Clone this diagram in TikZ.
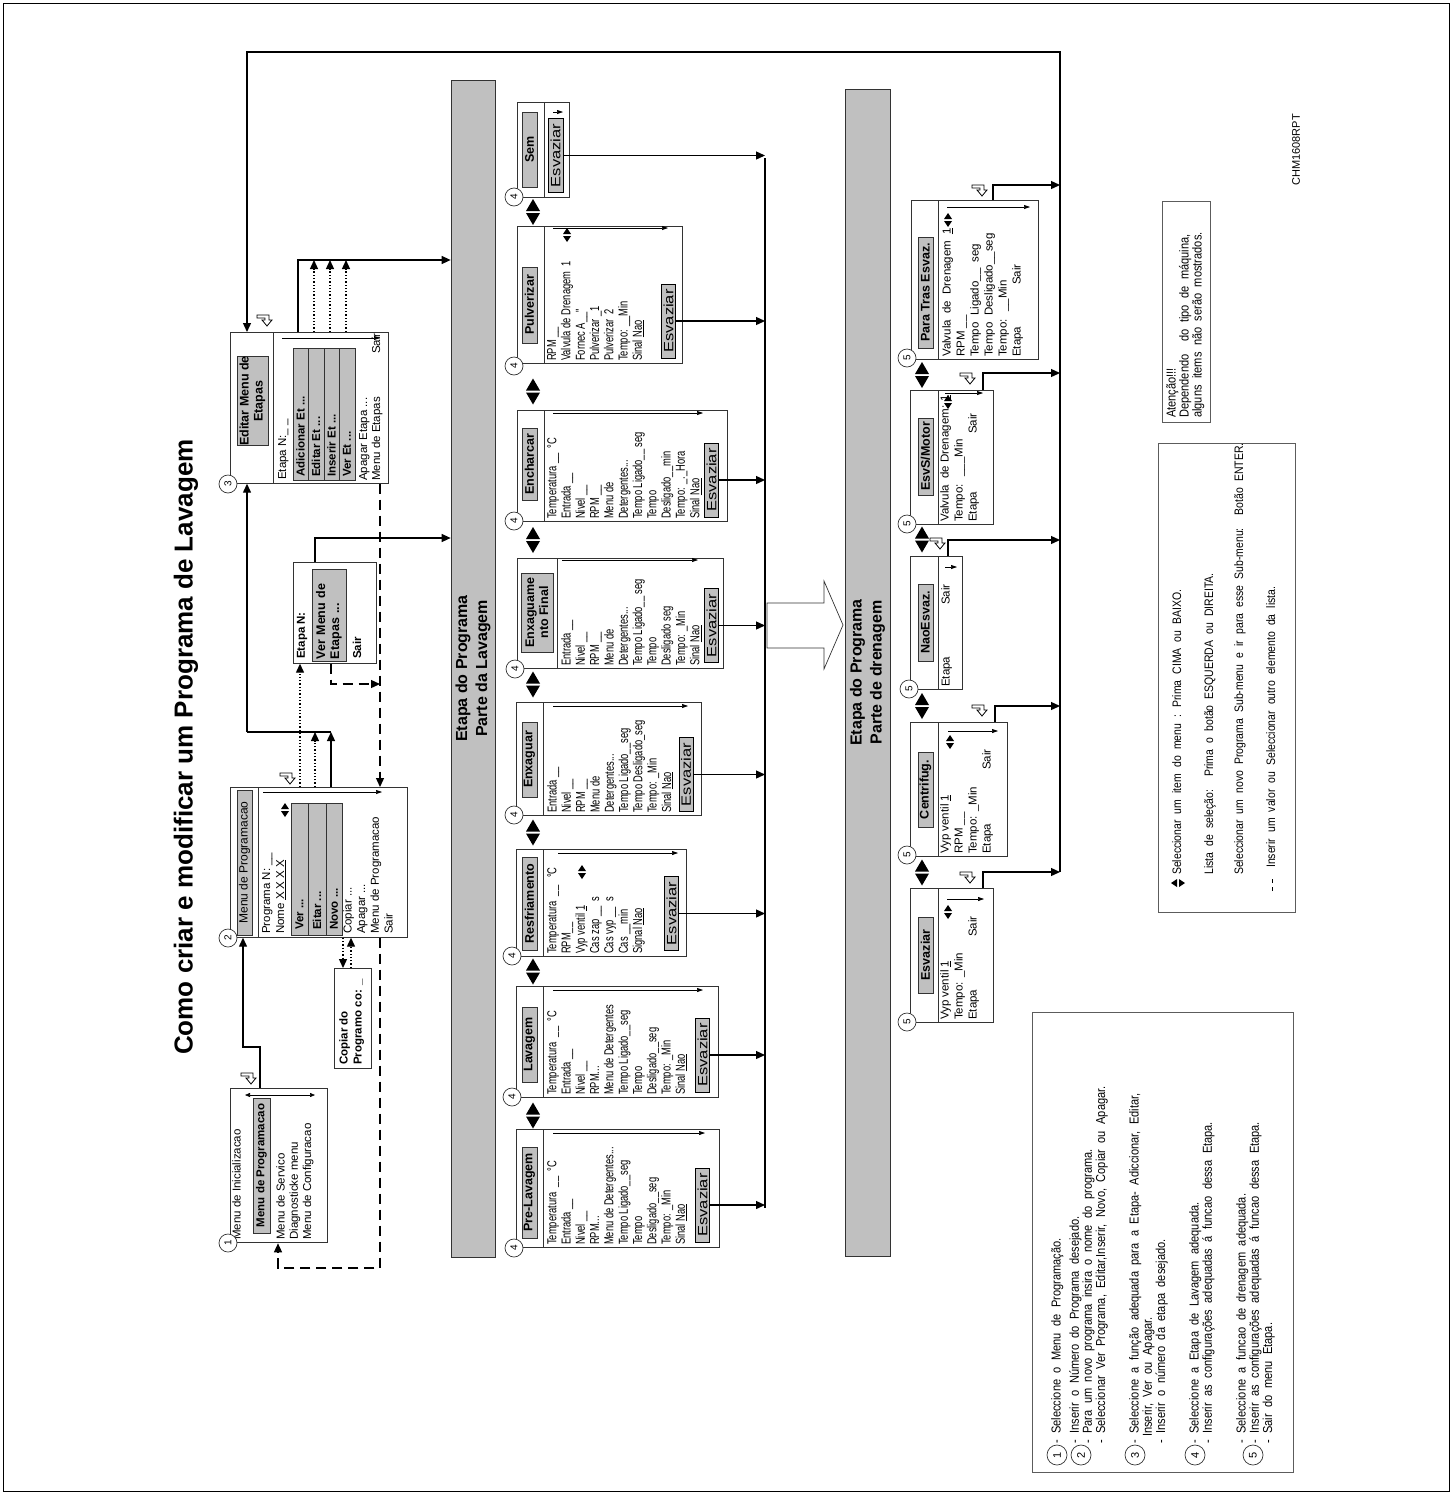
\documentclass[tikz,border=0pt]{standalone}
\usepackage{fontspec}
\setmainfont{Liberation Sans}
\newfontfamily\narrowfont[FakeStretch=0.72]{Liberation Sans}
\newfontfamily\widefont[FakeStretch=1.22]{Liberation Sans}
\newfontfamily\notefont[FakeStretch=0.85,WordSpace=2.1]{Liberation Sans}
\usetikzlibrary{arrows.meta}
\definecolor{lavGray}{HTML}{C0C0C0}
\definecolor{lavLine}{HTML}{333333}
\tikzset{
  screen/.style={rectangle,draw=lavLine,fill=white,line width=0.7pt,inner sep=0pt,anchor=north west},
  greybar/.style={rectangle,draw=lavLine,fill=lavGray,line width=0.7pt,inner sep=0pt},
  tabbox/.style={rectangle,draw=lavLine,fill=lavGray,line width=0.7pt,inner sep=0pt,rotate=90,
    minimum height=15pt,font=\bfseries\fontsize{12.5}{14}\selectfont},
  drainbtn/.style={rectangle,draw=black,fill=lavGray,line width=0.9pt,inner sep=0pt,rotate=90,
    minimum width=74pt,minimum height=14pt,font=\widefont\fontsize{13.5}{14}\selectfont},
  listtxt/.style={rotate=90,anchor=north west,inner sep=0pt,align=left,font=\fontsize{11.5}{14}\selectfont},
  washtxt/.style={rotate=90,anchor=north west,inner sep=0pt,align=left,font=\narrowfont\fontsize{13}{14.3}\selectfont},
  rowtxt/.style={rotate=90,anchor=west,inner sep=0pt,font=\bfseries\fontsize{11.5}{13}\selectfont},
  notetxt/.style={rotate=90,anchor=north west,inner sep=0pt,align=left,font=\notefont\fontsize{13}{12}\selectfont},
  stepnum/.style={circle,draw=lavLine,fill=white,line width=0.7pt,minimum size=18pt,inner sep=0pt,rotate=90,
    font=\fontsize{10}{10}\selectfont},
  flowarrow/.style={-{Triangle[length=9pt,width=8pt]},line width=1.3pt},
  dotarrow/.style={-{Triangle[length=9pt,width=8pt]},line width=1.3pt,dotted},
  dasharrow/.style={-{Triangle[length=9pt,width=8pt]},line width=1.3pt,dash pattern=on 10pt off 6pt},
  scrollarrow/.style={-{Triangle[length=6pt,width=4pt]},line width=0.6pt},
  entericon/.style={draw=black,fill=white,line width=0.8pt,line join=miter}
}

\begin{document}
\begin{tikzpicture}[x=1pt,y=-1pt]
  \useasboundingbox (0,0) rectangle (1452,1494);
  \draw[line width=0.8pt] (3,3) rectangle (1449,1491);

  % title
  \node[rotate=90,font=\bfseries\fontsize{26}{30}\selectfont] (title) at (186,747)
    {Como criar e modificar um Programa de Lavagem};

  % the two step bars
  \node[greybar,minimum width=44pt,minimum height=1177pt] (wbar) at (473,668.5) {};
  \node[rotate=90,align=center,font=\bfseries\fontsize{16}{20}\selectfont] (wbartxt) at (wbar.center)
    {Etapa do Programa\\Parte da Lavagem};
  \node[greybar,minimum width=45pt,minimum height=1167pt] (dbar) at (867.5,672.5) {};
  \node[rotate=90,align=center,font=\bfseries\fontsize{16}{20}\selectfont] (dbartxt) at (dbar.center)
    {Etapa do Programa\\Parte de drenagem};

  % menu screens
  \node[screen,line width=1.3pt,minimum width=97pt,minimum height=154pt] (m1) at (230,1088) {};
  \node[screen,minimum width=177pt,minimum height=150pt] (m2) at (230,787) {};
  \node[screen,minimum width=37pt,minimum height=100pt] (cp) at (334,968) {};
  \node[screen,minimum width=83pt,minimum height=101pt] (vm) at (293,562) {};
  \node[screen,minimum width=158pt,minimum height=151pt] (m3) at (230,332) {};
  \draw[lavLine,line width=0.7pt] ([xshift=28pt]m2.north west) -- ([xshift=28pt]m2.south west);
  \draw[lavLine,line width=0.7pt] ([xshift=43pt]m3.north west) -- ([xshift=43pt]m3.south west);

  % washing steps
  \node[screen,minimum width=203pt,minimum height=118pt] (pre) at (516,1129) {};
  \node[screen,minimum width=202pt,minimum height=111pt] (lav) at (516,986) {};
  \node[screen,minimum width=170pt,minimum height=107pt] (res) at (516,849) {};
  \node[screen,minimum width=185pt,minimum height=113pt] (enx) at (516,702) {};
  \node[screen,minimum width=206pt,minimum height=110pt] (fin) at (517,558) {};
  \node[screen,minimum width=210pt,minimum height=111pt] (enc) at (517,410) {};
  \node[screen,minimum width=165pt,minimum height=137pt] (pul) at (517,226) {};
  \node[screen,minimum width=52pt,minimum height=95pt] (sem) at (517,102) {};
  \foreach \b in {pre,lav,res,enx,enc,pul,sem}
    \draw[lavLine,line width=0.7pt] ([xshift=27pt]\b.north west) -- ([xshift=27pt]\b.south west);
  \draw[lavLine,line width=0.7pt] ([xshift=40pt]fin.north west) -- ([xshift=40pt]fin.south west);

  % draining steps
  \node[screen,minimum width=83pt,minimum height=134pt] (desv) at (910,888) {};
  \node[screen,minimum width=97pt,minimum height=134pt] (cen) at (910,722) {};
  \node[screen,minimum width=52pt,minimum height=133pt] (nao) at (910,556) {};
  \node[screen,minimum width=83pt,minimum height=134pt] (mot) at (910,390) {};
  \node[screen,minimum width=127pt,minimum height=159pt] (tras) at (911,200) {};
  \foreach \b in {desv,cen,nao,mot}
    \draw[lavLine,line width=0.7pt] ([xshift=28pt]\b.north west) -- ([xshift=28pt]\b.south west);
  \draw[lavLine,line width=0.7pt] ([xshift=27pt]tras.north west) -- ([xshift=27pt]tras.south west);

  % screen 1
  \node[listtxt] (m1a) at (232,1240) {Menu de Inicializacao};
  \node[tabbox,minimum width=135pt,minimum height=17pt,font=\bfseries\fontsize{11.5}{13}\selectfont] (m1sel)
    at (261.5,1165.5) {Menu de Programacao};
  \node[listtxt,font=\fontsize{11.5}{13.3}\selectfont] (m1b) at (276,1240)
    {Menu de Servico\\Diagnosticke menu\\Menu de Configuracao};
  \draw[{Triangle[length=5pt,width=4pt]}-{Triangle[length=5pt,width=4pt]},line width=0.6pt] (245,1095) -- (315,1095);

  % screen 2
  \node[tabbox,minimum width=145pt,font=\fontsize{12}{14}\selectfont] (m2tab) at (244.5,862.5) {Menu de Programacao};
  \node[listtxt] (m2a) at (262,934) {Programa N: \_\_\\Nome \underline{X X X X}};
  \node[greybar,anchor=north west,minimum width=51pt,minimum height=132pt] (m2sel) at (291,803) {};
  \draw[lavLine,line width=1pt] ([xshift=17pt]m2sel.north west) -- ([xshift=17pt]m2sel.south west);
  \draw[lavLine,line width=1pt] ([xshift=35pt]m2sel.north west) -- ([xshift=35pt]m2sel.south west);
  \node[rowtxt] (m2ver) at (299.5,930) {Ver ...};
  \node[rowtxt] (m2edt) at (317,930) {Eitar ...};
  \node[rowtxt] (m2nov) at (334,930) {Novo ...};
  \node[listtxt,font=\fontsize{11.5}{13.7}\selectfont] (m2b) at (343,934)
    {Copiar ...\\Apagar ...\\Menu de Programacao\\Sair};

  % copy screen
  \node[listtxt,font=\bfseries\fontsize{11.5}{14}\selectfont] (cpa) at (339,1065) {Copiar do\\Programo co: \_};

  % view screen
  \node[rowtxt] (vma) at (302,659) {Etapa N:};
  \node[tabbox,minimum width=92pt,minimum height=34pt,text width=88pt,align=left] (vmtab) at (329,615)
    {Ver Menu de\\Etapas ...};
  \node[rowtxt] (vmb) at (357,659) {Sair};

  % screen 3
  \node[tabbox,minimum width=88pt,minimum height=31pt,align=center] (m3tab) at (252.5,401) {Editar Menu de\\Etapas};
  \node[listtxt] (m3a) at (278,480) {Etapa N:\_ \_};
  \node[greybar,anchor=north west,minimum width=62pt,minimum height=132pt] (m3sel) at (293,348) {};
  \foreach \dx in {15,31,46}
    \draw[lavLine,line width=1pt] ([xshift=\dx pt]m3sel.north west) -- ([xshift=\dx pt]m3sel.south west);
  \node[rowtxt] (m3add) at (300.5,477) {Adicionar Et ...};
  \node[rowtxt] (m3edt) at (316,477) {Editar Et ...};
  \node[rowtxt] (m3ins) at (331.5,477) {Inserir Et ...};
  \node[rowtxt] (m3ver) at (347,477) {Ver Et ...};
  \node[listtxt,font=\fontsize{11.5}{13}\selectfont] (m3b) at (359,481)
    {Apagar Etapa ...\\\makebox[127pt][l]{Menu de Etapas}Sair};

  % washing step tabs and texts
  \node[tabbox,minimum width=91pt] (pretab) at (529.5,1192.5) {Pre-Lavagem};
  \node[tabbox,minimum width=75pt] (lavtab) at (529.5,1044.5) {Lavagem};
  \node[tabbox,minimum width=93pt] (restab) at (529.5,903.5) {Resfriamento};
  \node[tabbox,minimum width=75pt] (enxtab) at (529.5,759.5) {Enxaguar};
  \node[tabbox,minimum width=79pt,minimum height=32pt,align=center] (fintab) at (537,612.5) {Enxaguame\\nto Final};
  \node[tabbox,minimum width=72pt] (enctab) at (529.5,464) {Encharcar};
  \node[tabbox,minimum width=76pt] (pultab) at (529.5,305) {Pulverizar};
  \node[tabbox,minimum width=75pt] (semtab) at (529.5,149.5) {Sem};

  \node[washtxt] (pretxt) at (547,1245) {Temperatura \ \_\_ \ °C\\Entrada \_\_\\Nivel \_\_\\RPM...\\Menu de Detergentes...\\Tempo Ligado\_\_seg\\Tempo\\Desligado\_\_seg\\Tempo: \_Min\\Sinal \underline{Nao}};
  \node[washtxt] (lavtxt) at (547,1095) {Temperatura \ \_\_ \ °C\\Entrada \_\_\\Nivel \_\_\\RPM...\\Menu de Detergentes\\Tempo Ligado\_\_seg\\Tempo\\Desligado\_\_seg\\Tempo: \_Min\\Sinal \underline{Nao}};
  \node[washtxt] (restxt) at (547,954) {Temperatura \ \_\_ \ \ °C\\RPM\_\_\\Vyp ventil \underline{1}\\Cas zap \_\_ \ s\\Cas vyp \_\_ \ s\\Cas \_\_min\\Signal \underline{Nao}};
  \node[washtxt] (enxtxt) at (547,813) {Entrada \_\_\\Nivel \_\_\\RPM \_\_\\Menu de\\Detergentes...\\Tempo Ligado\_\_seg\\Tempo Desligado\_seg\\Tempo: \_Min\\Sinal \underline{Nao}};
  \node[washtxt] (fintxt) at (561,666) {Entrada \_\_\\Nivel \_\_\\RPM \_\_\\Menu de\\Detergentes...\\Tempo Ligado\_\_ seg\\Tempo\\Desligado seg\\Tempo: \_Min\\Sinal \underline{Nao}};
  \node[washtxt] (enctxt) at (547,519) {Temperatura \_\_ \ °C\\Entrada \_\_\\Nivel \_\_\\RPM \_\_\\Menu de\\Detergentes...\\Tempo Ligado\_\_ seg\\Tempo\\Desligado\_\_min\\Tempo: \_.\_Hora\\Sinal \underline{Nao}};
  \node[washtxt] (pultxt) at (547,361) {RPM \_\_\\Valvula de Drenagem \ 1\\Fornec A\_\_"\\Pulverizar \_1\\Pulverizar \ 2\\Tempo: \_\_Min\\Sinal \underline{Nao}};

  \node[drainbtn] (preb) at (702.5,1205) {Esvaziar};
  \node[drainbtn] (lavb) at (702.5,1055) {Esvaziar};
  \node[drainbtn] (resb) at (671.5,913.5) {Esvaziar};
  \node[drainbtn] (enxb) at (686,774.5) {Esvaziar};
  \node[drainbtn] (finb) at (711.5,625.5) {Esvaziar};
  \node[drainbtn] (encb) at (711.5,480) {Esvaziar};
  \node[drainbtn] (pulb) at (668.5,321) {Esvaziar};
  \node[drainbtn,minimum height=15pt] (semb) at (555.5,155.5) {Esvaziar};

  % draining step tabs and texts
  \node[tabbox,minimum width=111pt] (trastab) at (925.5,292.5) {Para Tras Esvaz.};
  \node[tabbox,minimum width=77pt] (mottab) at (925.5,456.5) {EsvS/Motor};
  \node[tabbox,minimum width=77pt] (naotab) at (925.5,622.5) {NaoEsvaz.};
  \node[tabbox,minimum width=75pt] (centab) at (925.5,789.5) {Centrifug.};
  \node[tabbox,minimum width=76pt] (desvtab) at (925.5,955) {Esvaziar};

  \node[listtxt] (trastxt) at (942,357) {Valvula \ de \ Drenagem \ \underline{1}\\RPM \_\_\\Tempo \ Ligado\_\_ \ seg\\Tempo \ Desligado\_\_seg\\Tempo: \ \_\_Min\\\makebox[72pt][l]{Etapa}Sair};
  \node[listtxt] (mottxt) at (940,522) {Valvula \ de Drenagem: \underline{1}\\Tempo: \ \_\_\_Min\\\makebox[88pt][l]{Etapa}Sair};
  \node[listtxt] (naotxt) at (941,687) {\makebox[82pt][l]{Etapa}Sair};
  \node[listtxt] (centxt) at (940,854) {Vyp ventil \underline{1}\\RPM \_\_\\Tempo: \_Min\\\makebox[84pt][l]{Etapa}Sair};
  \node[listtxt] (desvtxt) at (940,1020) {Vyp ventil \underline{1}\\Tempo: \_Min\\\makebox[83pt][l]{Etapa}Sair};

  % step numbers
  \node[stepnum] (n1) at (228,1243) {1};
  \node[stepnum] (n2) at (228,938) {2};
  \node[stepnum] (n3) at (228,484) {3};
  \foreach \cx/\cy [count=\i] in {514/1248,512/1097,512/956,514/815,515/669,514/521,514/366,514/197}
    \node[stepnum] (four\i) at (\cx,\cy) {4};
  \foreach \cx/\cy [count=\i] in {907/1022,907/855,909/689,907/524,907/358}
    \node[stepnum] (five\i) at (\cx,\cy) {5};

  % left/right arrows between steps
  \foreach \cy in {212,391.5,540,684.5,832.5,971.5,1115.5} {
    \fill (526,{\cy-1}) -- (540,{\cy-1}) -- (533,{\cy-13}) -- cycle;
    \fill (526,{\cy+1}) -- (540,{\cy+1}) -- (533,{\cy+13}) -- cycle;
  }
  \foreach \cy in {375,539.5,706,872.5} {
    \fill (915,{\cy-1}) -- (929,{\cy-1}) -- (922,{\cy-13}) -- cycle;
    \fill (915,{\cy+1}) -- (929,{\cy+1}) -- (922,{\cy+13}) -- cycle;
  }
  % small list marks
  \foreach \sx/\sy in {285/810,582/872,567/235,948/220,948/402,950/742,948/912,1212/883} {
    \fill ({\sx-4},{\sy-1}) -- ({\sx+4},{\sy-1}) -- (\sx,{\sy-7}) -- cycle;
    \fill ({\sx-4},{\sy+1}) -- ({\sx+4},{\sy+1}) -- (\sx,{\sy+7}) -- cycle;
  }
  % scroll marks
  \foreach \ax/\bx/\ay in {263/382/792,282/380/338,553/705/1133,553/703/990,558/678/853,553/688/706,562/698/560,
      553/703/413,553/668/228,553/563/112,947/1030/207,945/983/393,945/957/567,948/998/731,947/984/899}
    \draw[scrollarrow] (\ax,\ay) -- (\bx,\ay);
  % enter marks
  \foreach \ex/\ey in {249/1078,288/778,265/320,980/190,968/378,938/543,980/710,968/877,1243/887}
    \draw[entericon,shift={(\ex,\ey)}] (-8,-5) -- (4,-5) -- (4,0) -- (7,0) -- (2,6) -- (-3,0) -- (0,0) -- (0,-2) -- (-8,-2) -- cycle;

  % connectors on the menu side
  \coordinate (j2) at (247,732);
  \coordinate (dj) at (380,684);
  \coordinate (dl) at (380,1268);
  \coordinate (dl2) at (278,1268);
  \draw[flowarrow] ([xshift=30pt]m1.north west) -- ++(0,-41) -| ([xshift=13pt]m2.south west);
  \draw[flowarrow] ([xshift=101pt]m2.north west) -- ([xshift=101pt,yshift=55pt]m2.north west);
  \draw[dotarrow] ([xshift=85pt]m2.north west) -- ([xshift=85pt,yshift=55pt]m2.north west);
  \draw[line width=1.3pt] (j2) -- ([xshift=101pt,yshift=55pt]m2.north west);
  \draw[flowarrow] (j2) -- (j2 |- m3.south);
  \draw[dotarrow] ([xshift=70pt]m2.north west) -- ([xshift=7pt]vm.south west);
  \draw[dotarrow] ([xshift=113pt]m2.south west) -- ([xshift=9pt]cp.north west);
  \draw[dotarrow] ([xshift=17pt]cp.north west) -- ([xshift=121pt]m2.south west);
  \draw[flowarrow] ([xshift=22pt]vm.north west) |- ([yshift=130.5pt]wbar.west);
  \draw[dasharrow] ([xshift=38pt]vm.south west) |- (dj);
  \draw[dasharrow] ([xshift=150pt]m3.south west) -- ([xshift=150pt]m2.north west);
  \draw[dasharrow] ([xshift=150pt]m2.south west) -- (dl) -- (dl2) -- ([xshift=48pt]m1.south west);
  \draw[flowarrow] ([xshift=68pt]m3.north west) |- ([yshift=408.5pt]wbar.west);
  \foreach \dx in {84,100,116}
    \draw[dotarrow] ([xshift=\dx pt]m3.north west) -- ([xshift=\dx pt,yshift=72pt]m3.north west);

  % washing steps to the drain collector
  \coordinate (colT) at (765,158);
  \coordinate (colB) at (765,1208);
  \draw[line width=1.3pt] (colT) -- (colB);
  \foreach \b in {preb,lavb,resb,enxb,finb,encb,pulb,semb}
    \draw[flowarrow] (\b.south) -- (\b.south -| colT);
  \draw[lavLine,line width=0.7pt,fill=white] (767,603) -- (824,603) -- (824,581) -- (843,625) -- (824,669)
    -- (824,648) -- (767,648) -- cycle;

  % draining steps back to screen 3
  \coordinate (rt) at (1060,872);
  \draw[flowarrow] ([xshift=82pt]tras.north west) |- ([yshift=15pt]tras.north -| rt);
  \draw[flowarrow] ([xshift=73pt]mot.north west) |- ([yshift=17pt]mot.north -| rt);
  \draw[flowarrow] ([xshift=38pt]nao.north west) |- ([yshift=16pt]nao.north -| rt);
  \draw[flowarrow] ([xshift=85pt]cen.north west) |- ([yshift=16pt]cen.north -| rt);
  \draw[flowarrow] ([xshift=73pt]desv.north west) |- ([yshift=16pt]desv.north -| rt);
  \draw[flowarrow] (rt) |- ([xshift=17pt,yshift=280pt]m3.north west) -- ([xshift=17pt]m3.north west);

  % notes
  \node[screen,draw=lavLine!80,minimum width=261pt,minimum height=460pt] (leg1) at (1032,1012) {};
  \foreach \cx/\t [count=\i] in {1057/1,1081/2,1135/3,1195/4,1253/5}
    \node[stepnum,minimum size=20pt,font=\fontsize{11}{11}\selectfont] (key\i) at (\cx,1455) {\t};
  \node[notetxt] (g1) at (1051,1444) {- Seleccione o Menu de Programação.};
  \node[notetxt] (g2) at (1069,1444) {- Inserir o Número do Programa desejado.\\- Para um novo programa insira o nome do programa.\\- Seleccionar Ver Programa, Editar,Inserir, Novo, Copiar ou Apagar.};
  \node[notetxt] (g3) at (1129,1444) {- Seleccione a função adequada para a Etapa- Adiccionar, Editar,\\\hspace*{7pt}Inserir, Ver ou Apagar.\\- Inserir o número da etapa desejado.};
  \node[notetxt] (g4) at (1189,1444) {- Seleccione a Etapa de Lavagem adequada.\\- Inserir as configurações adequadas á funcao dessa Etapa.};
  \node[notetxt] (g5) at (1236,1444) {- Seleccione a funcao de drenagem adequada.\\- Inserir as configurações adequadas á funcao dessa Etapa.\\- Sair do menu Etapa.};

  \node[screen,draw=lavLine!80,minimum width=137pt,minimum height=469pt] (leg2) at (1158,443) {};
  \fill (1177,879) -- (1177,887) -- (1171,883) -- cycle;
  \fill (1179,879) -- (1179,887) -- (1185,883) -- cycle;
  \draw[dash pattern=on 4pt off 4pt,line width=0.8pt] (1272,891) -- (1272,877);
  \node[notetxt,font=\notefont\fontsize{12.3}{12}\selectfont] (k1) at (1172,875) {Seleccionar um item do menu : Prima CIMA ou BAIXO.};
  \node[notetxt,font=\notefont\fontsize{12.3}{12}\selectfont] (k2) at (1204,875) {Lista de seleção: \ Prima o botão ESQUERDA ou DIREITA.};
  \node[notetxt,font=\notefont\fontsize{12.3}{12}\selectfont] (k3) at (1234,875) {Seleccionar um novo Programa Sub-menu e ir para esse Sub-menu: \ Botão ENTER.};
  \node[notetxt,font=\notefont\fontsize{12.3}{12}\selectfont] (k4) at (1266,868) {Inserir um valor ou Seleccionar outro elemento da lista.};

  \node[screen,draw=lavLine!80,minimum width=48pt,minimum height=221pt] (leg3) at (1162,201) {};
  \node[notetxt,font=\notefont\fontsize{13}{13}\selectfont] (att) at (1166,418)
    {Atenção!!!\\Dependendo \ do tipo de máquina,\\alguns items não serão mostrados.};
  \node[rotate=90,font=\fontsize{11}{13}\selectfont] (code) at (1296,150) {CHM1608RPT};
\end{tikzpicture}
\end{document}
